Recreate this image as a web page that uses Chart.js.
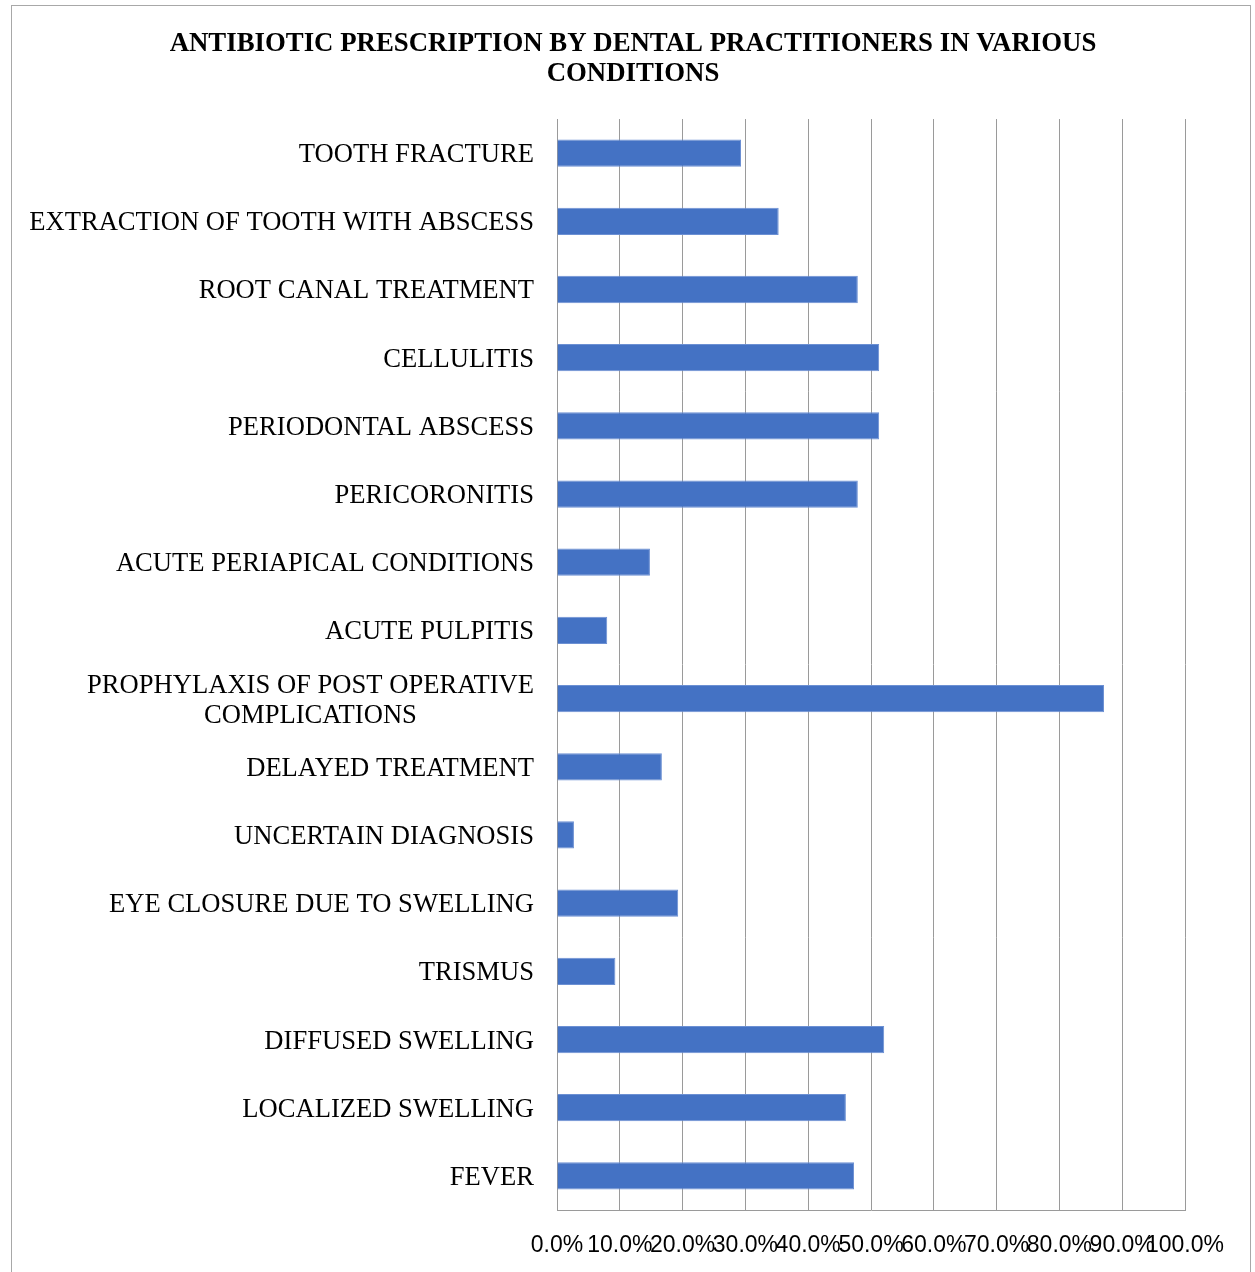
<!DOCTYPE html>
<html>
<head>
<meta charset="utf-8">
<script src="https://cdn.jsdelivr.net/npm/chart.js@4"></script>
<style>
  html, body { margin: 0; padding: 0; background: #fff; }
  #wrap { width: 1255px; height: 1272px; }
</style>
</head>
<body>
<div id="wrap"><canvas id="chart" width="1255" height="1272"></canvas></div>
<script>
const conditions = [
  "TOOTH FRACTURE",
  "EXTRACTION OF TOOTH WITH ABSCESS",
  "ROOT CANAL TREATMENT",
  "CELLULITIS",
  "PERIODONTAL ABSCESS",
  "PERICORONITIS",
  "ACUTE PERIAPICAL CONDITIONS",
  "ACUTE PULPITIS",
  ["PROPHYLAXIS OF POST OPERATIVE", "COMPLICATIONS"],
  "DELAYED TREATMENT",
  "UNCERTAIN DIAGNOSIS",
  "EYE CLOSURE DUE TO SWELLING",
  "TRISMUS",
  "DIFFUSED SWELLING",
  "LOCALIZED SWELLING",
  "FEVER"
];
const percentages = [29.3, 35.3, 47.9, 51.3, 51.3, 47.9, 14.8, 8.0, 87.1, 16.7, 2.7, 19.3, 9.3, 52.1, 46.0, 47.3];
const xTicks = [0, 10, 20, 30, 40, 50, 60, 70, 80, 90, 100];

const gridGray = '#9a9a9a';
const labelFont = '26.6px "Liberation Serif", "Times New Roman", serif';

// frame round the whole chart, like the figure box in the paper
const framePlugin = {
  id: 'frame',
  beforeDraw(c) {
    const g = c.ctx;
    g.save();
    g.fillStyle = '#fff';
    g.fillRect(0, 0, c.width, c.height);
    g.strokeStyle = '#a8a8a8';
    g.lineWidth = 1;
    g.strokeRect(11.5, 5.5, 1239, 1300);
    g.restore();
  }
};

// category labels: right aligned, wrapped label lines centred on each other
const catLabels = {
  id: 'catLabels',
  afterDraw(c) {
    const y = c.scales.y, g = c.ctx;
    const right = y.right - 23;
    g.save();
    g.font = labelFont;
    g.fillStyle = '#000';
    g.textBaseline = 'middle';
    conditions.forEach((lab, i) => {
      const py = y.getPixelForValue(i) + 2;
      const lines = Array.isArray(lab) ? lab : [lab];
      const widest = Math.max(...lines.map(l => g.measureText(l).width));
      const lh = 30;
      lines.forEach((l, k) => {
        const ly = py + (k - (lines.length - 1) / 2) * lh;
        if (lines.length > 1) {
          g.textAlign = 'center';
          g.fillText(l, right - widest / 2, ly);
        } else {
          g.textAlign = 'right';
          g.fillText(l, right, ly);
        }
      });
    });
    g.restore();
  }
};

new Chart(document.getElementById('chart'), {
  type: 'bar',
  data: {
    labels: conditions,
    datasets: [{
      data: percentages,
      backgroundColor: '#4472C4',
      borderColor: '#6c90d3',
      borderWidth: 1,
      barPercentage: 0.8,
      categoryPercentage: 0.5
    }]
  },
  options: {
    indexAxis: 'y',
    responsive: false,
    animation: false,
    layout: { padding: { left: 81, right: 70, top: 0, bottom: 14 } },
    plugins: {
      legend: { display: false },
      tooltip: { enabled: false },
      title: {
        display: true,
        text: ['ANTIBIOTIC PRESCRIPTION BY DENTAL PRACTITIONERS IN VARIOUS', 'CONDITIONS'],
        color: '#000',
        font: { family: '"Liberation Serif", "Times New Roman", serif', size: 26.8, weight: 'bold', lineHeight: 1.12 },
        padding: { top: 29, bottom: 30 }
      }
    },
    scales: {
      x: {
        min: 0,
        max: 100,
        afterBuildTicks(s) { s.ticks = xTicks.map(v => ({ value: v })); },
        afterFit(s) { s.height = 48; },
        ticks: {
          autoSkip: false,
          maxRotation: 0,
          padding: 22,
          color: '#000',
          font: { family: '"Liberation Sans", Arial, sans-serif', size: 23 },
          callback: v => v.toFixed(1) + '%'
        },
        grid: { color: gridGray, lineWidth: 1, drawTicks: false },
        border: { color: gridGray, width: 1 }
      },
      y: {
        afterFit(s) { s.width = 557 - 81; },
        ticks: { display: false },
        grid: { display: false },
        border: { color: gridGray, width: 1 }
      }
    }
  },
  plugins: [framePlugin, catLabels]
});
</script>
</body>
</html>
